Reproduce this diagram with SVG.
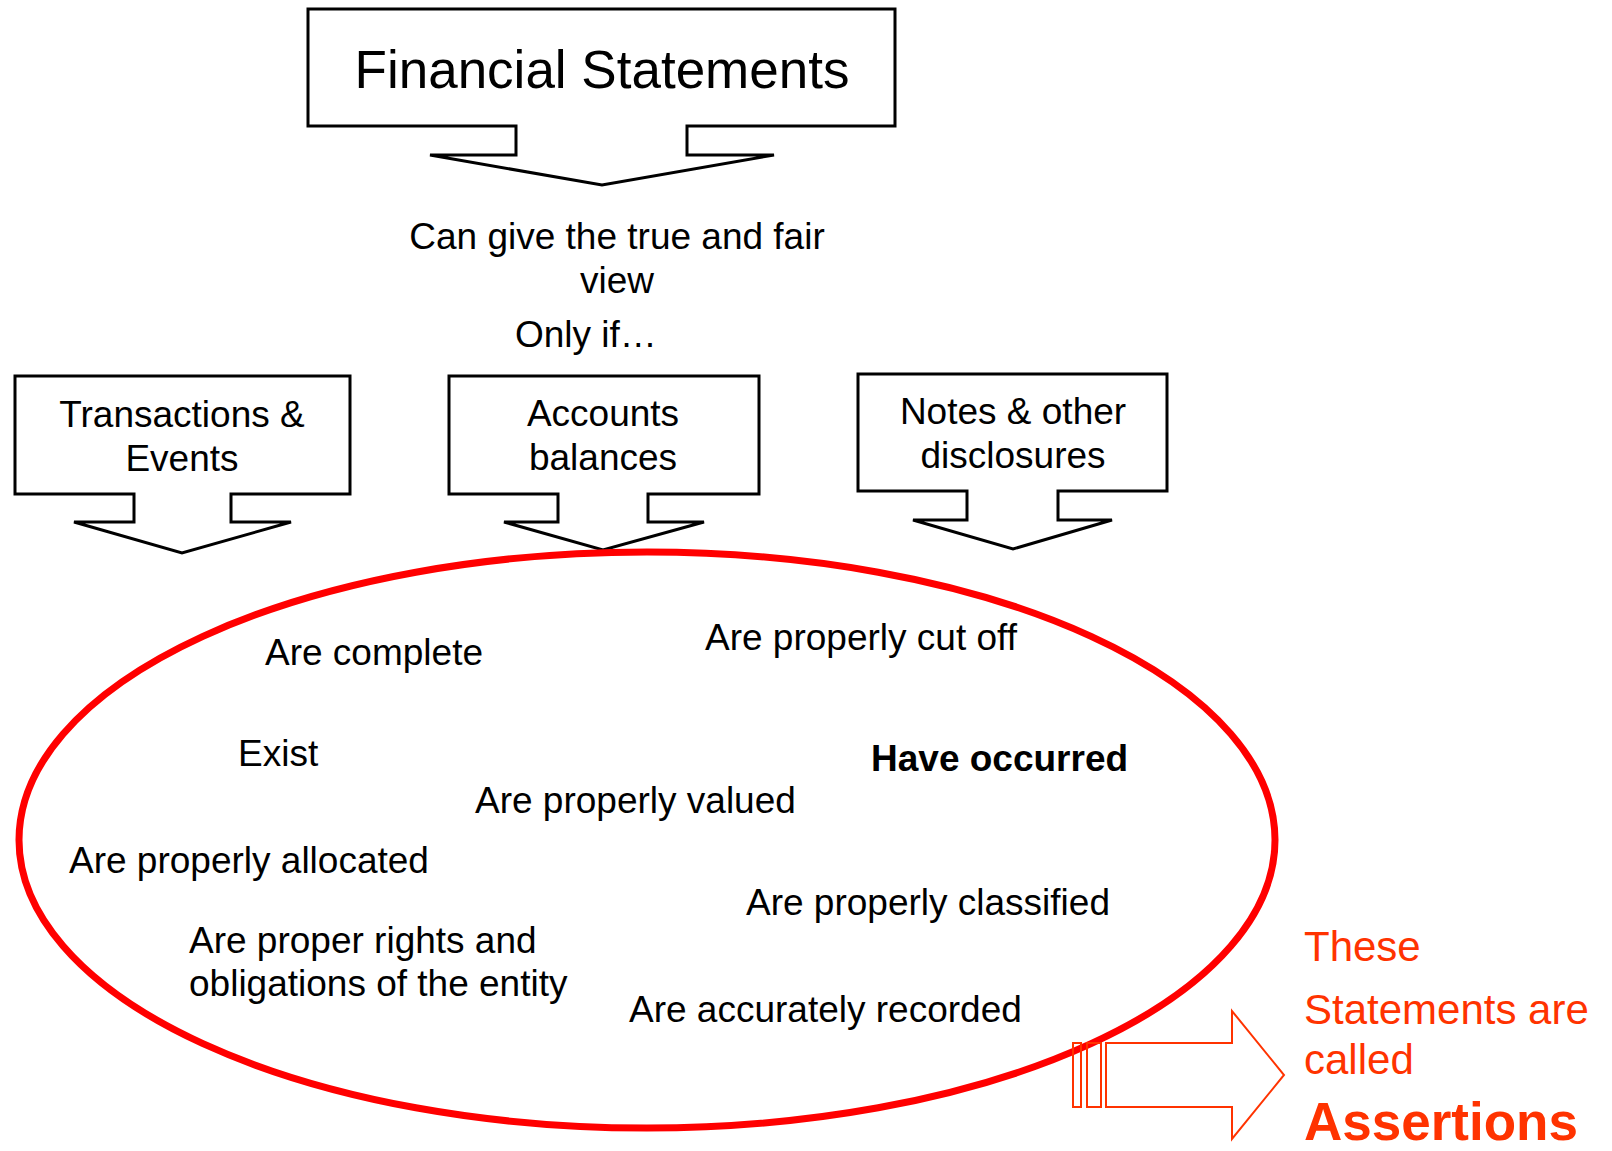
<svg xmlns="http://www.w3.org/2000/svg" width="1612" height="1151" viewBox="0 0 1612 1151">
<style>
.box{fill:#fff;stroke:#000;stroke-width:3;stroke-linejoin:miter}
.t{font-family:"Liberation Sans",Arial,sans-serif;font-size:37px;fill:#000}
.c{text-anchor:middle}
.b{font-weight:bold}
.red{fill:#FF3300;font-family:"Liberation Sans",Arial,sans-serif}
</style>
<rect width="1612" height="1151" fill="#fff"/>
<g id="financial-statements">
<polygon class="box" points="308,9 895,9 895,126 687,126 687,155 774,155 602,185 430,155 516,155 516,126 308,126"/>
<text class="t c" x="602" y="88" style="font-size:53px">Financial Statements</text>
</g>
<g id="condition">
<text class="t c" x="617" y="249">Can give the true and fair</text>
<text class="t c" x="617" y="293">view</text>
<text class="t" x="515" y="347">Only if…</text>
</g>
<g id="transactions">
<polygon class="box" points="15,376 350,376 350,494 231,494 231,522 291,522 182,553 74,522 134,522 134,494 15,494"/>
<text class="t c" x="182" y="427">Transactions &amp;</text>
<text class="t c" x="182" y="471">Events</text>
</g>
<g id="accounts">
<polygon class="box" points="449,376 759,376 759,494 648,494 648,522 704,522 603,550 504,522 558,522 558,494 449,494"/>
<text class="t c" x="603" y="426">Accounts</text>
<text class="t c" x="603" y="470">balances</text>
</g>
<g id="notes">
<polygon class="box" points="858,374 1167,374 1167,491 1058,491 1058,520 1112,520 1013,549 913,520 967,520 967,491 858,491"/>
<text class="t c" x="1013" y="424">Notes &amp; other</text>
<text class="t c" x="1013" y="468">disclosures</text>
</g>
<g id="assertions-set">
<ellipse cx="647" cy="840" rx="628" ry="288" fill="none" stroke="#FF0000" stroke-width="7"/>
<text class="t" x="265" y="665">Are complete</text>
<text class="t" x="705" y="650">Are properly cut off</text>
<text class="t" x="238" y="766">Exist</text>
<text class="t b" x="871" y="771">Have occurred</text>
<text class="t" x="475" y="813">Are properly valued</text>
<text class="t" x="69" y="873">Are properly allocated</text>
<text class="t" x="746" y="915">Are properly classified</text>
<text class="t" x="189" y="953">Are proper rights and</text>
<text class="t" x="189" y="996">obligations of the entity</text>
<text class="t" x="629" y="1022">Are accurately recorded</text>
</g>
<g id="connectors">
<g fill="none" stroke="#FF3300" stroke-width="2">
<rect x="1073" y="1043" width="8" height="64"/>
<rect x="1087" y="1043" width="14" height="64"/>
<polygon points="1106,1043 1232,1043 1232,1011 1284,1075 1232,1139 1232,1107 1106,1107"/>
</g>
</g>
<g id="label">
<text class="red" x="1304" y="961" font-size="42">These</text>
<text class="red" x="1304" y="1024" font-size="42">Statements are</text>
<text class="red" x="1304" y="1074" font-size="42">called</text>
<text class="red" x="1304" y="1140" font-size="53" font-weight="bold">Assertions</text>
</g>
</svg>
